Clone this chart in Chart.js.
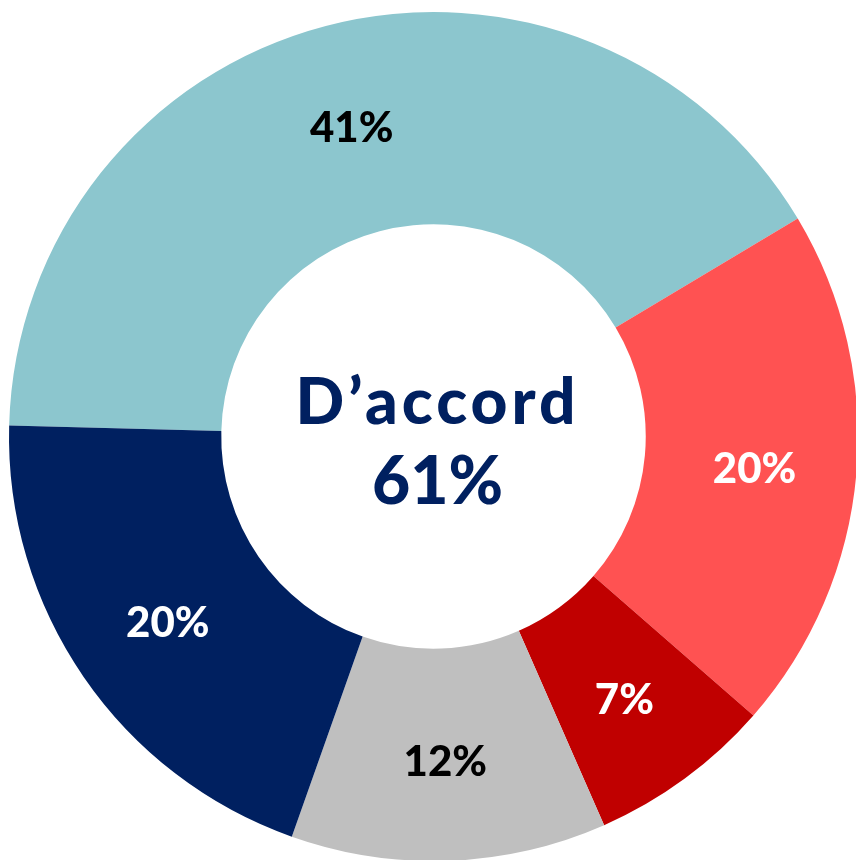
<!DOCTYPE html>
<html>
<head>
<meta charset="utf-8">
<script src="https://cdn.jsdelivr.net/npm/chart.js@4"></script>
<style>
html,body{margin:0;padding:0;background:#fff;overflow:hidden;}
#wrap{width:856px;height:860px;position:relative;overflow:hidden;}
canvas{position:absolute;left:0;top:0;}
</style>
</head>
<body>
<div id="wrap"><canvas id="c" width="858" height="862"></canvas></div>
<script>
const categories = ["Plutôt d'accord", "Tout à fait d'accord", "Pas du tout d'accord", "Ne sait pas", "Plutôt pas d'accord"];
const values = [41, 20, 7, 12, 20];
const labels = ["41%", "20%", "7%", "12%", "20%"];
const colors = ["#8CC6CE", "#FF5252", "#C00000", "#BFBFBF", "#002060"];
const labelColors = ["#000000", "#FFFFFF", "#FFFFFF", "#000000", "#FFFFFF"];
const centerLines = ["D\u2019accord", "61%"];

const FONT = "Lato, 'DejaVu Sans', sans-serif";

const labelPlugin = {
  id: 'arcLabels',
  afterDatasetsDraw(chart) {
    const ctx = chart.ctx;
    const meta = chart.getDatasetMeta(0);
    ctx.save();
    ctx.textAlign = 'center';
    ctx.textBaseline = 'middle';
    meta.data.forEach((arc, i) => {
      const p = arc.getProps(['x','y','startAngle','endAngle','innerRadius','outerRadius'], true);
      const a = (p.startAngle + p.endAngle) / 2;
      const r = (p.innerRadius + p.outerRadius) / 2 + 4;
      const x = p.x + Math.cos(a) * r;
      const y = p.y + Math.sin(a) * r + 4;
      ctx.fillStyle = labelColors[i];
      ctx.font = "900 42px " + FONT;
      ctx.fillText(labels[i], x, y);
    });
    const a0 = meta.data[0];
    ctx.fillStyle = "#002060";
    ctx.font = "900 64px " + FONT;
    if ('letterSpacing' in ctx) ctx.letterSpacing = '4px';
    ctx.fillText(centerLines[0], a0.x + 4, a0.y - 33);
    if ('letterSpacing' in ctx) ctx.letterSpacing = '0px';
    ctx.font = "900 66px " + FONT;
    ctx.fillText(centerLines[1], a0.x + 4, a0.y + 46);
    ctx.restore();
  }
};

new Chart(document.getElementById('c'), {
  type: 'doughnut',
  data: {
    labels: categories,
    datasets: [{
      data: values,
      backgroundColor: colors,
      borderWidth: 0,
      hoverOffset: 0
    }]
  },
  options: {
    responsive: false,
    animation: false,
    rotation: -88.5,
    cutout: '50%',
    layout: { padding: { top: 11, left: 9, right: 0, bottom: 0 } },
    plugins: { legend: { display: false }, tooltip: { enabled: false } }
  },
  plugins: [labelPlugin]
});
</script>
</body>
</html>
